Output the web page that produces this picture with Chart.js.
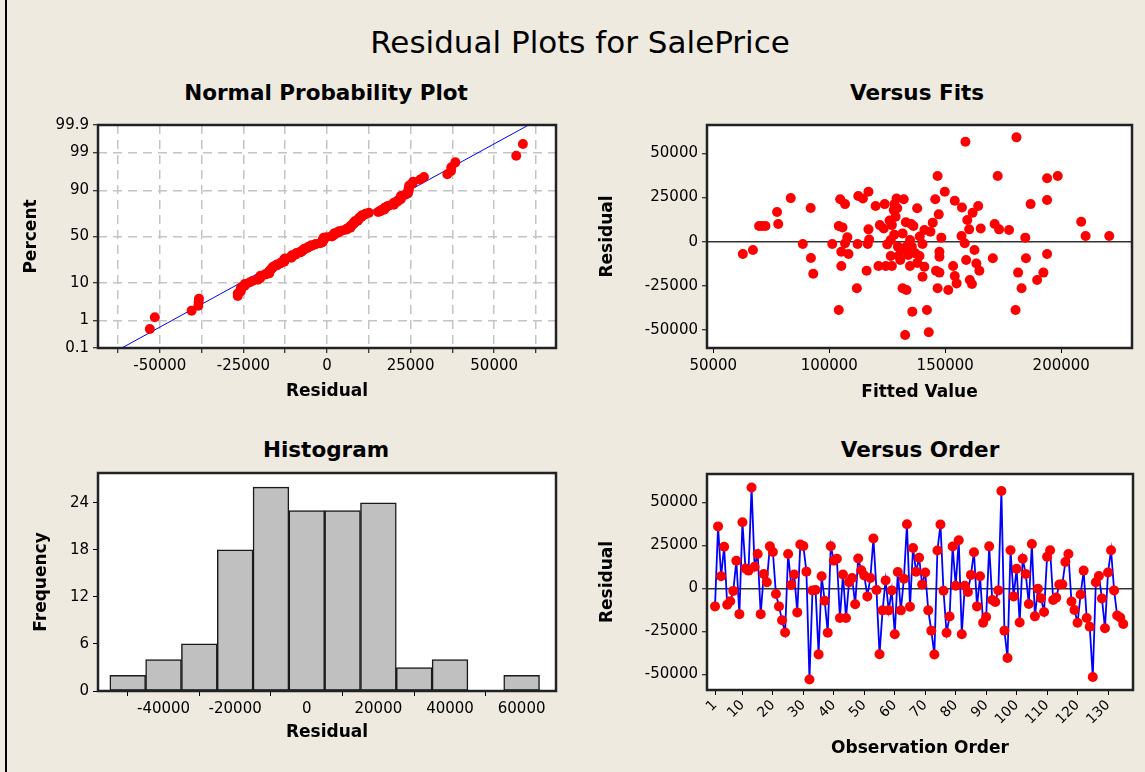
<!DOCTYPE html>
<html>
<head>
<meta charset="utf-8">
<script src="https://cdn.jsdelivr.net/npm/chart.js@4.4.1/dist/chart.umd.min.js"></script>
<style>
  body{margin:0;background:#EEEAE0;}
  #page{position:relative;width:1145px;height:772px;background:#EEEAE0;overflow:hidden;font-family:"DejaVu Sans",sans-serif;}
  #page canvas{position:absolute;}
  .ttl{position:absolute;transform:translate(-50%,-50%);white-space:nowrap;color:#000;}
  .main{font-size:31px;}
  .sub{font-size:21.5px;font-weight:bold;}
  #edge{position:absolute;left:5px;top:0;width:2px;height:772px;background:#000;}
</style>
</head>
<body>
<div id="page">
  <div id="edge"></div>
  <div class="ttl main" style="left:580px;top:42px">Residual Plots for SalePrice</div>
  <div class="ttl sub" style="left:326px;top:92px">Normal Probability Plot</div>
  <div class="ttl sub" style="left:917px;top:92px">Versus Fits</div>
  <div class="ttl sub" style="left:326px;top:449px">Histogram</div>
  <div class="ttl sub" style="left:920px;top:449px">Versus Order</div>
  <canvas id="c-normal" width="570" height="310" style="left:0;top:100px"></canvas>
  <canvas id="c-fits" width="565" height="310" style="left:580px;top:100px"></canvas>
  <canvas id="c-hist" width="570" height="342" style="left:0;top:430px"></canvas>
  <canvas id="c-order" width="565" height="342" style="left:580px;top:430px"></canvas>
</div>
<script>
// ── data ──
// residuals in observation order (n = 135)
const residByOrder = [
  -10500, 36000, 7000, 24200, -9500, -7500, -1500, 16000, -15000, 38400,
  11500, 10300, 58600, 12500, 20000, -15000, 8300, 3500, 24400, 21100,
  -3300, -10500, -18600, -25700, 20000, 2000, 8000, -14000, 25500, 24600,
  9700, -53000, -1200, -1000, -38400, 7000, -7200, -25800, 24500, 16100,
  17200, -17300, 8000, -17300, 3600, 6000, -9300, 17300, 10500, 7500,
  -4700, 6000, 29000, -1000, -38300, -12800, 4600, -12800, -1200, -26700,
  9500, -12800, 5600, 37200, -10700, 23400, 9600, 17800, 2200, 9200,
  -12800, -24600, -38500, 22000, 37100, -1400, -25800, -16400, 24300, 1500,
  27900, -26700, 1500, -2100, 7800, 21000, -10500, 7000, -20000, -16700,
  24400, -6800, -8000, -1200, 56600, -24600, -40500, 22100, -4700, 11400,
  -19900, 17200, 8300, -9100, 25800, -16300, -200, -5700, -13800, 18400,
  22100, -6800, -5400, 2200, 2300, 15300, 20000, -7700, -12600, -20000,
  -3600, 10300, -17300, -22300, -51500, 3500, 7200, -5900, -23200, 9200,
  22100, -1200, -15800, -17000, -20700
];

// versus fits: fitted value / residual pairs
const fitValues = [
  62750, 67100, 69750, 71000, 72500, 77500, 78000, 83400, 88600, 92000,
  92100, 93100, 101300, 104100, 104100, 104700, 105700, 105200, 105200, 106800,
  106800, 107800, 108300, 111900, 112200, 112500, 114500, 116100, 116900, 116900,
  116600, 117200, 120000, 121200, 121800, 123500, 123900, 124400, 126500, 126500,
  127000, 127000, 127800, 128100, 128600, 129000, 129300, 129600, 130600, 130900,
  131600, 131600, 132100, 132700, 133300, 133300, 134000, 134800, 134800, 135300,
  135600, 136300, 135800, 137100, 137900, 138900, 140200, 141000, 141000, 140200,
  142100, 142900, 143600, 144600, 145700, 146700, 146000, 146700, 147200, 147500,
  147500, 147500, 148300, 149800, 151300, 153400, 154100, 154100, 154900, 157200,
  157000, 158700, 158400, 159000, 159500, 160300, 160600, 161500, 161800, 162600,
  163400, 164200, 164700, 165300, 170500, 171300, 173200, 172600, 177500, 180300,
  180700, 181400, 182900, 184500, 184800, 186800, 189600, 192300, 193900, 193900,
  193900, 198500, 208600, 210500, 220700, 125000, 128000, 130000, 133000, 138000,
  139000, 126000
];
const fitResid = [
  -7000, -4700, 8900, 8900, 8900, 16800, 10000, 24700, -1300, 19100,
  -9200, -18100, -1300, -38700, 8900, 24000, 8100, -13800, -5700, 21300,
  -900, 2500, -7000, -26400, -1300, 25900, 24500, -16400, 28300, 7000,
  -1300, 1300, 20200, -13800, 9400, 7500, 21300, -13800, 900, -8100,
  -13800, 9400, 17900, 21300, 14100, 24500, 18900, -2800, -10400, -4700,
  4700, -26400, 24000, -52800, -27400, -2800, -7500, 900, -13800, 10000,
  -2800, 8900, -39600, -6600, 18900, -8100, -1300, 6600, -14200, -19800,
  -38700, -51300, 5700, 10800, 24000, 37200, -16400, -26400, 15500, -5700,
  -8500, -17500, 2300, 28300, -27400, -13800, 23200, -19400, -23600, 19400,
  3200, 56600, -900, -10400, 12300, 7000, -21700, -24000, 16400, -4700,
  -12300, 20200, -16400, 7500, -9400, 10000, 7000, 37200, 6600, -38700,
  59100, -17500, -26400, 2300, -9400, 21300, -21700, -17500, 35900, 23600,
  -7000, 37200, 11300, 3200, 3200, -1500, 4000, -8000, 11000, -12000,
  3000, 12000
];

// histogram bins (centre) and frequencies
const binCentres = [-50000, -40000, -30000, -20000, -10000, 0, 10000, 20000, 30000, 40000, 50000, 60000];
const binCounts  = [2, 4, 6, 18, 26, 23, 23, 24, 3, 4, 0, 2];

// normal probability plot: percent ticks, residual grid and the fitted reference line
const pctTicks = [0.1, 1, 10, 50, 90, 99, 99.9];
const normalXGrid = [-62500, -50000, -37500, -25000, -12500, 0, 12500, 25000, 37500, 50000, 62500];
const normalXLabels = [-50000, -25000, 0, 25000, 50000];
const lineResid = [-61400, 60300];
const linePct   = [0.1, 99.9];

// axis ticks
const residTicks = [-50000, -25000, 0, 25000, 50000];
const fitTicks   = [50000, 100000, 150000, 200000];
const histTicks  = [-40000, -20000, 0, 20000, 40000, 60000];
const freqTicks  = [0, 6, 12, 18, 24];
const orderTicks = [1, 10, 20, 30, 40, 50, 60, 70, 80, 90, 100, 110, 120, 130];

// ── helpers ──
Chart.defaults.font.family = "DejaVu Sans";
Chart.defaults.color = "#000";
const TICK_FONT  = { family: "DejaVu Sans", size: 15 };
const TITLE_FONT = { family: "DejaVu Sans", size: 17, weight: "bold" };
const RED = "#FF0000", BLUE = "#0000FF";

// inverse normal cdf (Acklam)
function probit(p) {
  const a = [-3.969683028665376e+01, 2.209460984245205e+02, -2.759285104469687e+02, 1.383577518672690e+02, -3.066479806614716e+01, 2.506628277459239e+00];
  const b = [-5.447609879822406e+01, 1.615858368580409e+02, -1.556989798598866e+02, 6.680131188771972e+01, -1.328068155288572e+01];
  const c = [-7.784894002430293e-03, -3.223964580411365e-01, -2.400758277161838e+00, -2.549732539343734e+00, 4.374664141464968e+00, 2.938163982560659e+00];
  const d = [7.784695709041462e-03, 3.224671290700398e-01, 2.445134137142996e+00, 3.754408661907416e+00];
  const pl = 0.02425;
  let q, r;
  if (p < pl) {
    q = Math.sqrt(-2 * Math.log(p));
    return (((((c[0]*q+c[1])*q+c[2])*q+c[3])*q+c[4])*q+c[5]) / ((((d[0]*q+d[1])*q+d[2])*q+d[3])*q+1);
  }
  if (p <= 1 - pl) {
    q = p - 0.5; r = q * q;
    return (((((a[0]*r+a[1])*r+a[2])*r+a[3])*r+a[4])*r+a[5])*q / (((((b[0]*r+b[1])*r+b[2])*r+b[3])*r+b[4])*r+1);
  }
  q = Math.sqrt(-2 * Math.log(1 - p));
  return -(((((c[0]*q+c[1])*q+c[2])*q+c[3])*q+c[4])*q+c[5]) / ((((d[0]*q+d[1])*q+d[2])*q+d[3])*q+1);
}

// white plot area + dark frame
const framePlugin = {
  id: "frame",
  beforeDraw(chart) {
    const a = chart.chartArea, ctx = chart.ctx;
    ctx.save(); ctx.fillStyle = "#fff"; ctx.fillRect(a.left, a.top, a.width, a.height); ctx.restore();
  },
  afterDraw(chart) {
    const a = chart.chartArea, ctx = chart.ctx;
    ctx.save(); ctx.strokeStyle = "#222"; ctx.lineWidth = 2.5;
    ctx.strokeRect(a.left, a.top, a.width, a.height); ctx.restore();
  }
};

// pin the plot frame to fixed pixels inside the canvas
function pinFrame(cfg, w, h, box) {
  cfg.options.layout = { padding: { left: 0, top: box.t, right: w - box.r, bottom: 0 } };
  cfg.options.scales.x.afterFit = s => { s.height = h - box.b; };
  cfg.options.scales.y.afterFit = s => { s.width = box.l; };
  return cfg;
}
const useTicks = list => s => { s.ticks = list.map(v => ({ value: v })); };

const baseOpts = () => ({
  responsive: false, animation: false, events: [],
  plugins: { legend: { display: false }, tooltip: { enabled: false } }
});
const tickGrid = { drawOnChartArea: false, tickLength: 5, tickColor: "#000", tickWidth: 1 };
const zeroGrid = { color: c => c.tick && c.tick.value === 0 ? "#333" : "rgba(0,0,0,0)", lineWidth: 1.5,
                   tickLength: 5, tickColor: "#000", tickWidth: 1 };
const dashGrid = { color: "#c4c4c4", lineWidth: 1.5, tickLength: 5, tickColor: "#000", tickWidth: 1 };
const axisTitle = (text, pad) => ({ display: true, text, font: TITLE_FONT, color: "#000", padding: pad });
const plainTicks = extra => Object.assign({ autoSkip: false, maxRotation: 0, font: TICK_FONT, padding: 4,
                                            callback: v => String(v) }, extra || {});

// ── Normal probability plot ──
const sorted = residByOrder.slice().sort((p, q) => p - q);
const nObs = sorted.length;
const normalPts = sorted.map((v, i) => ({ x: v, y: probit((i + 1 - 0.3) / (nObs + 0.4)) }));

new Chart(document.getElementById("c-normal"), pinFrame({
  type: "scatter",
  data: { datasets: [
    { type: "line", data: lineResid.map((v, i) => ({ x: v, y: probit(linePct[i] / 100) })),
      borderColor: BLUE, borderWidth: 1, pointRadius: 0, order: 2 },
    { data: normalPts, pointRadius: 5, pointBackgroundColor: RED, pointBorderWidth: 0, order: 1 }
  ]},
  options: Object.assign(baseOpts(), {
    scales: {
      x: { type: "linear", min: -68500, max: 68500, afterBuildTicks: useTicks(normalXGrid),
           ticks: plainTicks({ callback: v => normalXLabels.includes(v) ? String(v) : "" }),
           grid: dashGrid, border: { display: false, dash: [9, 6] },
           title: axisTitle("Residual", { top: 0, bottom: 8 }) },
      y: { type: "linear", min: probit(pctTicks[0] / 100), max: probit(pctTicks[pctTicks.length - 1] / 100),
           afterBuildTicks: useTicks(pctTicks.map(p => probit(p / 100))),
           ticks: plainTicks({ callback: (v, i) => String(pctTicks[i]) }),
           grid: dashGrid, border: { display: false, dash: [9, 6] },
           title: axisTitle("Percent", { top: 21, bottom: 0 }) }
    }
  }),
  plugins: [framePlugin]
}, 570, 310, { l: 98, t: 25, r: 556, b: 248 }));

// ── Versus fits ──
new Chart(document.getElementById("c-fits"), pinFrame({
  type: "scatter",
  data: { datasets: [
    { data: fitValues.map((f, i) => ({ x: f, y: fitResid[i] })),
      pointRadius: 5, pointBackgroundColor: RED, pointBorderWidth: 0 }
  ]},
  options: Object.assign(baseOpts(), {
    scales: {
      x: { type: "linear", min: 47300, max: 230500, afterBuildTicks: useTicks(fitTicks),
           ticks: plainTicks(), grid: tickGrid, border: { display: false },
           title: axisTitle("Fitted Value", { top: 0, bottom: 7 }) },
      y: { type: "linear", min: -60200, max: 66100, afterBuildTicks: useTicks(residTicks),
           ticks: plainTicks(), grid: zeroGrid, border: { display: false },
           title: axisTitle("Residual", { top: 17, bottom: 0 }) }
    }
  }),
  plugins: [framePlugin]
}, 565, 310, { l: 127, t: 25, r: 552, b: 248 }));

// ── Histogram ──
new Chart(document.getElementById("c-hist"), pinFrame({
  type: "bar",
  data: { datasets: [
    { data: binCentres.map((c, i) => ({ x: c, y: binCounts[i] })),
      backgroundColor: "#C0C0C0", borderColor: "#1a1a1a", borderWidth: 1.5, borderSkipped: false,
      barPercentage: 1, categoryPercentage: 1 }
  ]},
  options: Object.assign(baseOpts(), {
    scales: {
      x: { type: "linear", min: -58300, max: 69600, offset: false, afterBuildTicks: useTicks(histTicks),
           ticks: plainTicks(), grid: tickGrid, border: { display: false },
           title: axisTitle("Residual", { top: 0, bottom: 29 }) },
      y: { type: "linear", min: 0, max: 27.8, afterBuildTicks: useTicks(freqTicks),
           ticks: plainTicks(), grid: tickGrid, border: { display: false },
           title: axisTitle("Frequency", { top: 31, bottom: 0 }) }
    }
  }),
  plugins: [framePlugin]
}, 570, 342, { l: 98, t: 43, r: 556, b: 261 }));

// ── Versus order ──
new Chart(document.getElementById("c-order"), pinFrame({
  type: "line",
  data: { datasets: [
    { data: residByOrder.map((r, i) => ({ x: i + 1, y: r })),
      borderColor: BLUE, borderWidth: 1.8, tension: 0,
      pointRadius: 5, pointBackgroundColor: RED, pointBorderWidth: 0 }
  ]},
  options: Object.assign(baseOpts(), {
    scales: {
      x: { type: "linear", min: -1.63, max: 138.2, afterBuildTicks: useTicks(orderTicks),
           ticks: { autoSkip: false, minRotation: 45, maxRotation: 45, font: { family: "DejaVu Sans", size: 14 }, padding: 2,
                    callback: v => String(v) },
           grid: tickGrid, border: { display: false },
           title: axisTitle("Observation Order", { top: 0, bottom: 13 }) },
      y: { type: "linear", min: -59100, max: 66450, afterBuildTicks: useTicks(residTicks),
           ticks: plainTicks(), grid: zeroGrid, border: { display: false },
           title: axisTitle("Residual", { top: 17, bottom: 0 }) }
    }
  }),
  plugins: [framePlugin]
}, 565, 342, { l: 127, t: 44, r: 553, b: 260 }));
</script>
</body>
</html>
